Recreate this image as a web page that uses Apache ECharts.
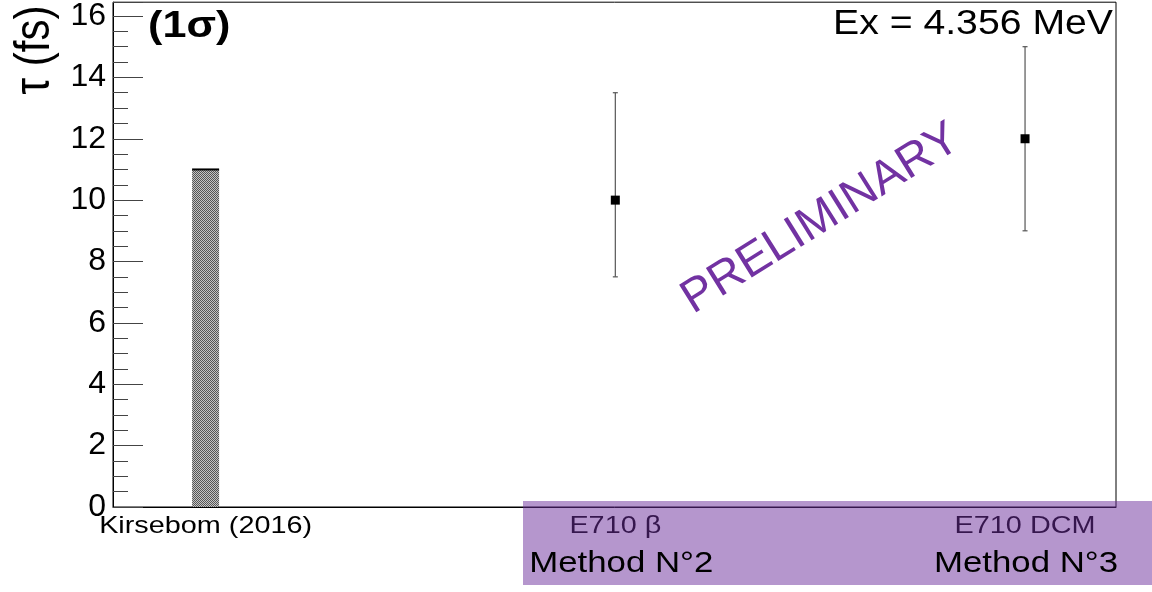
<!DOCTYPE html>
<html>
<head>
<meta charset="utf-8">
<script src="https://cdn.jsdelivr.net/npm/echarts@6/dist/echarts.min.js"></script>
<style>
  html, body { margin: 0; padding: 0; background: #fff; }
  #chart { width: 1152px; height: 592px; }
</style>
</head>
<body>
<div id="chart"></div>
<script>
// Lifetime of the Ex = 4.356 MeV state: literature value vs. two E710 analyses
const labels  = ['Kirsebom (2016)', 'E710 β', 'E710 DCM'];
const methods = ['', 'Method N°2', 'Method N°3'];
const xPos    = [1, 2, 3];

// literature value drawn as a bar
const barX      = [1];
const barValues = [11];

// E710 measurements with their 1σ ranges
const pointX    = [2, 3];
const pointVals = [10, 12];
const pointLow  = [7.5, 9];
const pointHigh = [13.5, 15];

const yMin = 0, yMax = 16.45, yStep = 2;

const FONT = '"Liberation Sans", Arial, Helvetica, sans-serif';
const STRETCH = 1.2;

// checkered fill for the bar
const tile = document.createElement('canvas');
tile.width = 2; tile.height = 2;
const tctx = tile.getContext('2d');
tctx.fillStyle = '#c4c4c4'; tctx.fillRect(0, 0, 2, 2);
tctx.fillStyle = '#555555'; tctx.fillRect(0, 0, 1, 1); tctx.fillRect(1, 1, 1, 1);
const checker = { image: tile, repeat: 'repeat' };

const chart = echarts.init(document.getElementById('chart'), null, { renderer: 'canvas' });

const option = {
  backgroundColor: '#ffffff',
  animation: false,
  grid: {
    left: 113, right: 36, top: 1, bottom: 85,
    show: true, borderColor: '#000', borderWidth: 1, backgroundColor: 'transparent'
  },
  xAxis: {
    type: 'value', min: 0.774, max: 3.222,
    axisLine: { show: true, lineStyle: { color: '#000', width: 1 } },
    axisTick: { show: false }, axisLabel: { show: false }, splitLine: { show: false }
  },
  yAxis: {
    type: 'value', min: yMin, max: yMax, interval: yStep,
    axisLine: { show: true, lineStyle: { color: '#000', width: 1 } },
    axisTick: { show: true, inside: true, length: 30, lineStyle: { color: '#444', width: 1 } },
    minorTick: { show: true, splitNumber: 4, length: 15, lineStyle: { color: '#444', width: 1 } },
    splitLine: { show: false },
    axisLabel: {
      show: true, margin: 7, fontSize: 32, color: '#000', fontFamily: FONT,
      showMaxLabel: false,
      formatter: v => (v > 16 ? '' : String(v))
    }
  },
  series: [
    {
      type: 'custom',
      name: 'Kirsebom (2016)',
      z: 3,
      data: barX.map((x, i) => [x, barValues[i]]),
      renderItem: (params, api) => {
        const top = api.coord([api.value(0), api.value(1)]);
        const base = api.coord([api.value(0), 0]);
        const w = 27;
        return {
          type: 'group',
          children: [
            { type: 'rect', shape: { x: top[0] - w / 2, y: top[1], width: w, height: base[1] - top[1] },
              style: { fill: checker } },
            { type: 'line', shape: { x1: top[0] - w / 2, y1: top[1], x2: top[0] + w / 2, y2: top[1] },
              style: { stroke: '#000', lineWidth: 2 } }
          ]
        };
      }
    },
    {
      type: 'custom',
      name: 'E710',
      z: 4,
      data: pointX.map((x, i) => [x, pointVals[i], pointLow[i], pointHigh[i]]),
      renderItem: (params, api) => {
        const x = api.value(0);
        const c = api.coord([x, api.value(1)]);
        const lo = api.coord([x, api.value(2)]);
        const hi = api.coord([x, api.value(3)]);
        const cap = 2.5, m = 4.5;
        const stroke = { stroke: '#555', lineWidth: 1.2 };
        return {
          type: 'group',
          children: [
            { type: 'line', shape: { x1: c[0], y1: lo[1], x2: c[0], y2: hi[1] }, style: stroke },
            { type: 'line', shape: { x1: c[0] - cap, y1: lo[1], x2: c[0] + cap, y2: lo[1] }, style: stroke },
            { type: 'line', shape: { x1: c[0] - cap, y1: hi[1], x2: c[0] + cap, y2: hi[1] }, style: stroke },
            { type: 'rect', shape: { x: c[0] - m, y: c[1] - m, width: 2 * m, height: 2 * m },
              style: { fill: '#000' } }
          ]
        };
      }
    }
  ]
};

chart.setOption(option);

// text placed at the data positions of each entry
const methodShift = [0, 6, 1];
function buildGraphics() {
  const els = [];
  labels.forEach((txt, i) => {
    const px = chart.convertToPixel({ xAxisIndex: 0 }, xPos[i]);
    els.push({
      type: 'text', x: px, y: 526, scaleX: STRETCH, z: 40,
      style: { text: txt, fontSize: 24, fontFamily: FONT, fill: '#000', align: 'center', verticalAlign: 'middle' }
    });
    if (methods[i]) {
      els.push({
        type: 'text', x: px + methodShift[i], y: 564, scaleX: STRETCH, z: 60,
        style: { text: methods[i], fontSize: 29, fontFamily: FONT, fill: '#000', align: 'center', verticalAlign: 'middle' }
      });
    }
  });
  // translucent band behind the E710 labels
  els.push({
    type: 'rect', z: 50,
    shape: { x: 523, y: 501, width: 629, height: 84 },
    style: { fill: 'rgba(107,45,155,0.5)' }
  });
  els.push({
    type: 'text', x: 35, y: 50, rotation: Math.PI / 2, scaleY: STRETCH, z: 40,
    style: { text: 'τ (fs)', fontSize: 42, fontFamily: FONT, fill: '#000', align: 'center', verticalAlign: 'middle' }
  });
  els.push({
    type: 'text', x: 148, y: 27, scaleX: STRETCH, z: 40,
    style: { text: '(1σ)', fontSize: 36, fontWeight: 'bold', fontFamily: FONT, fill: '#000', align: 'left', verticalAlign: 'middle' }
  });
  els.push({
    type: 'text', x: 1113, y: 24, scaleX: 1.12, z: 40,
    style: { text: 'Ex = 4.356 MeV', fontSize: 35, fontFamily: FONT, fill: '#000', align: 'right', verticalAlign: 'middle' }
  });
  els.push({
    type: 'text', x: 821, y: 219, rotation: 32 * Math.PI / 180, z: 40,
    style: { text: 'PRELIMINARY', fontSize: 47, fontFamily: FONT, fill: '#7232a2', align: 'center', verticalAlign: 'middle' }
  });
  return els;
}

chart.setOption({ graphic: { elements: buildGraphics() } });
</script>
</body>
</html>
